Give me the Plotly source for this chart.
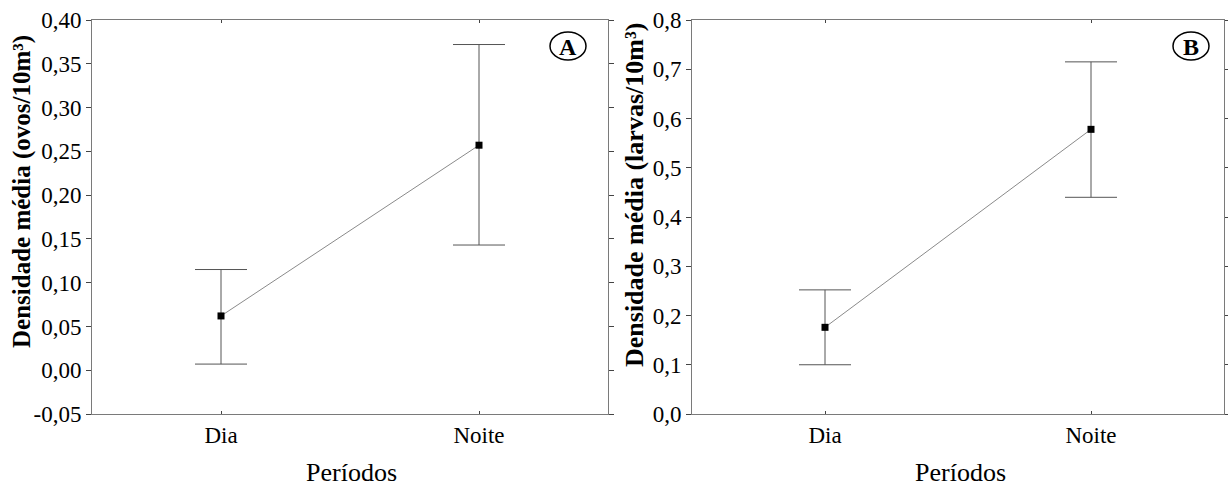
import plotly.graph_objects as go

# Mean density per period with error limits
periods = ["Dia", "Noite"]

ovos_mean = [0.062, 0.257]
ovos_upper = [0.115, 0.372]
ovos_lower = [0.007, 0.143]

larvas_mean = [0.176, 0.578]
larvas_upper = [0.252, 0.715]
larvas_lower = [0.100, 0.440]

ovos_ticks = [-0.05, 0.0, 0.05, 0.10, 0.15, 0.20, 0.25, 0.30, 0.35, 0.40]
larvas_ticks = [0.0, 0.1, 0.2, 0.3, 0.4, 0.5, 0.6, 0.7, 0.8]

W, H = 1228, 489
SERIF = "Liberation Serif"
AXIS_COLOR = "#7a7a7a"
ERR_COLOR = "#555555"
TEXT = "#000000"


def fx(px):
    return px / W


def fy(py):
    return 1 - py / H


def comma_labels(vals, decimals):
    return [f"{v:.{decimals}f}".replace(".", ",") for v in vals]


fig = go.Figure()


def add_panel(mean, upper, lower, xref, yref):
    fig.add_trace(go.Scatter(
        x=[0, 1], y=mean, mode="lines+markers",
        xaxis=xref, yaxis=yref,
        line=dict(color="#8a8a8a", width=1),
        marker=dict(symbol="square", size=7, color="black"),
        error_y=dict(
            type="data", symmetric=False,
            array=[u - m for u, m in zip(upper, mean)],
            arrayminus=[m - l for m, l in zip(mean, lower)],
            color=ERR_COLOR, thickness=1, width=26,
        ),
        showlegend=False, hoverinfo="skip",
    ))


add_panel(ovos_mean, ovos_upper, ovos_lower, "x", "y")
add_panel(larvas_mean, larvas_upper, larvas_lower, "x2", "y2")

common_x = dict(
    range=[-0.5, 1.5], tickvals=[0, 1], ticktext=periods,
    showline=True, linecolor=AXIS_COLOR, linewidth=1, mirror="ticks",
    ticks="inside", ticklen=3, tickcolor="#444", showgrid=False, zeroline=False,
    tickfont=dict(family=SERIF, size=23, color=TEXT),
    automargin=False,
)
common_y = dict(
    showline=True, linecolor=AXIS_COLOR, linewidth=1, mirror="ticks",
    ticks="outside", ticklen=5, tickcolor="#444", showgrid=False, zeroline=False,
    tickfont=dict(family=SERIF, size=23, color=TEXT),
    automargin=False,
)

fig.update_layout(
    width=W, height=H,
    margin=dict(l=0, r=0, t=0, b=0),
    paper_bgcolor="white", plot_bgcolor="white",
    xaxis=dict(domain=[fx(92), fx(608)], anchor="y", **common_x),
    xaxis2=dict(domain=[fx(692), fx(1224)], anchor="y2", **common_x),
    yaxis=dict(domain=[fy(414), fy(20)], anchor="x", range=[-0.05, 0.40],
               tickvals=ovos_ticks, ticktext=comma_labels(ovos_ticks, 2),
               **common_y),
    yaxis2=dict(domain=[fy(414), fy(20)], anchor="x2", range=[0.0, 0.8],
                tickvals=larvas_ticks, ticktext=comma_labels(larvas_ticks, 1),
                **common_y),
)

# Axis titles
y_titles = [("<b>Densidade média (ovos/10m³)</b>", 22, 192, 25),
            ("<b>Densidade média (larvas/10m³)</b>", 635, 195, 26)]
for text, cx, cy, size in y_titles:
    fig.add_annotation(x=fx(cx), y=fy(cy), xref="paper", yref="paper",
                       text=text, textangle=-90, showarrow=False,
                       font=dict(family=SERIF, size=size, color=TEXT),
                       xanchor="center", yanchor="middle")

for cx in (351, 960):
    fig.add_annotation(x=fx(cx), y=fy(472), xref="paper", yref="paper",
                       text="Períodos", showarrow=False, borderpad=0,
                       font=dict(family=SERIF, size=26, color=TEXT),
                       xanchor="center", yanchor="middle")

# Panel letters in circles
for letter, cx in (("A", 568), ("B", 1191)):
    fig.add_shape(type="circle", xref="paper", yref="paper",
                  x0=fx(cx - 18), x1=fx(cx + 18), y0=fy(46 + 14), y1=fy(46 - 14),
                  line=dict(color="black", width=1.5))
    fig.add_annotation(x=fx(cx), y=fy(47), xref="paper", yref="paper",
                       text=f"<b>{letter}</b>", showarrow=False,
                       font=dict(family=SERIF, size=24, color="black"),
                       xanchor="center", yanchor="middle")

fig.write_html("out.html")
